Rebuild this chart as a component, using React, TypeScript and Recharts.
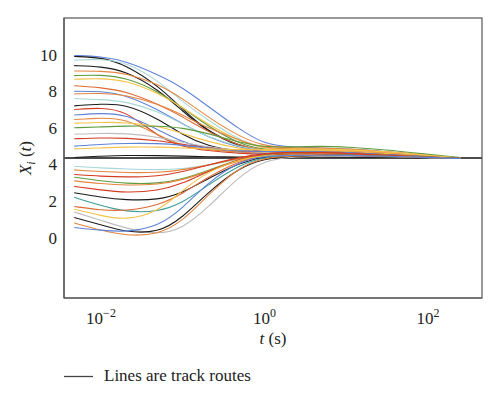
import React from 'react';
import { LineChart, Line, XAxis, YAxis, ReferenceLine } from 'recharts';

const times = [0.0047, 0.01, 0.02, 0.05, 0.1, 0.2, 0.5, 1, 2, 5, 10, 30, 100, 250];
const xTicks = [0.01, 1, 100];
const xTickExponents = ['−2', '0', '2'];
const yTicks = [0, 2, 4, 6, 8, 10];
const settleValue = 4.35;

const u1 = [9.95, 9.9, 9.65, 8.9, 8.2, 7.2, 5.9, 5.1, 4.95, 4.9, 4.85, 4.7, 4.5, 4.35];
const u2 = [9.9, 9.85, 9.45, 8.3, 7.0, 5.8, 5.0, 4.7, 4.65, 4.65, 4.6, 4.55, 4.45, null];
const u3 = [9.7, 9.75, 9.6, 8.6, 7.4, 6.45, 5.3, 4.85, 4.8, 4.8, 4.75, 4.65, 4.45, 4.35];
const u4 = [9.4, 9.35, 9.1, 8.1, 6.9, 5.8, 4.95, 4.65, 4.6, 4.6, 4.55, 4.5, 4.4, 4.33];
const u5 = [9.1, 9.1, 9.0, 8.4, 7.6, 6.6, 5.5, 5.0, 4.9, 4.9, 4.85, 4.7, 4.5, 4.35];
const u6 = [8.85, 8.9, 8.75, 8.0, 7.1, 6.1, 5.1, 4.8, 4.75, 4.75, 4.7, 4.6, 4.45, 4.35];
const u7 = [8.65, 8.7, 8.6, 7.9, 7.1, 6.2, 5.25, 4.85, 4.8, 4.8, 4.75, 4.6, 4.45, null];
const u8 = [8.3, 8.2, 8.0, 7.3, 6.6, 5.8, 5.0, 4.75, 4.7, 4.7, 4.7, 4.6, 4.45, 4.35];
const u9 = [8.0, 8.0, 7.8, 7.0, 6.2, 5.5, 4.9, 4.7, 4.65, 4.65, 4.6, 4.55, 4.42, 4.33];
const u10 = [7.85, 7.9, 7.8, 7.3, 6.7, 6.0, 5.3, 4.9, 4.85, 4.85, 4.8, 4.65, 4.45, 4.35];
const u11 = [7.6, 7.55, 7.45, 6.9, 6.2, 5.5, 4.95, 4.75, 4.7, 4.7, 4.65, 4.55, 4.42, 4.33];
const u12 = [7.2, 7.3, 7.3, 6.5, 5.6, 5.0, 4.7, 4.6, 4.55, 4.55, 4.5, 4.45, 4.38, null];
const u13 = [7.0, 7.1, 6.95, 5.5, 4.95, 4.75, 4.6, 4.55, 4.6, 4.6, 4.55, 4.5, 4.4, 4.33];
const u14 = [6.7, 6.8, 6.75, 5.9, 5.2, 4.85, 4.65, 4.6, 4.6, 4.6, 4.55, 4.5, 4.4, 4.33];
const u15 = [6.45, 6.55, 6.5, 5.6, 5.0, 4.8, 4.65, 4.65, 4.65, 4.65, 4.6, 4.5, 4.4, 4.33];
const u16 = [6.25, 6.3, 6.3, 6.1, 5.7, 5.25, 4.85, 4.75, 4.75, 4.75, 4.7, 4.6, 4.45, 4.35];
const u17 = [6.0, 6.05, 6.1, 6.1, 6.0, 5.7, 5.2, 4.95, 4.95, 5.0, 4.95, 4.8, 4.55, 4.37];
const u18 = [5.65, 5.7, 5.7, 5.5, 5.2, 4.95, 4.75, 4.65, 4.65, 4.65, 4.6, 4.5, 4.4, 4.33];
const u19 = [5.4, 5.45, 5.45, 5.3, 5.1, 4.9, 4.75, 4.7, 4.7, 4.7, 4.65, 4.55, 4.42, 4.33];
const u20 = [5.0, 5.1, 5.15, 5.15, 5.05, 4.9, 4.75, 4.7, 4.7, 4.7, 4.65, 4.55, 4.42, 4.33];
const u21 = [4.85, 4.9, 4.95, 4.95, 4.9, 4.85, 4.8, 4.8, 4.85, 4.85, 4.8, 4.7, 4.5, 4.35];
const u22 = [4.38, 4.45, 4.5, 4.48, 4.45, 4.42, 4.4, 4.4, 4.42, 4.42, 4.4, 4.38, 4.35, null];

const l1 = [3.9, 3.8, 3.75, 3.7, 3.75, 3.95, 4.3, 4.5, 4.55, 4.55, 4.55, 4.5, 4.4, 4.33];
const l2 = [3.7, 3.6, 3.55, 3.55, 3.7, 3.95, 4.35, 4.55, 4.6, 4.6, 4.6, 4.5, 4.4, 4.33];
const l3 = [3.45, 3.35, 3.3, 3.35, 3.6, 3.95, 4.4, 4.6, 4.65, 4.65, 4.6, 4.52, 4.4, 4.33];
const l4 = [3.3, 3.1, 2.95, 2.95, 3.2, 3.65, 4.3, 4.55, 4.6, 4.6, 4.55, 4.5, 4.4, 4.33];
const l5 = [3.1, 2.95, 2.85, 2.9, 3.15, 3.6, 4.25, 4.5, 4.6, 4.6, 4.55, 4.5, 4.4, null];
const l6 = [2.8, 2.6, 2.45, 2.55, 2.95, 3.6, 4.3, 4.6, 4.65, 4.65, 4.6, 4.5, 4.4, 4.33];
const l7 = [2.45, 2.2, 2.05, 2.05, 2.45, 3.2, 4.1, 4.45, 4.55, 4.55, 4.5, 4.45, 4.38, 4.32];
const l8 = [2.2, 1.75, 1.4, 1.4, 1.9, 2.85, 4.0, 4.4, 4.5, 4.5, 4.5, 4.45, 4.38, 4.32];
const l9 = [1.7, 1.5, 1.45, 1.75, 2.4, 3.3, 4.2, 4.5, 4.55, 4.55, 4.5, 4.45, 4.38, null];
const l10 = [1.55, 1.2, 0.95, 1.4, 2.6, 3.6, 4.3, 4.5, 4.5, 4.5, 4.5, 4.45, 4.38, 4.32];
const l11 = [1.4, 0.95, 0.5, 0.15, 0.5, 1.6, 3.4, 4.2, 4.4, 4.45, 4.45, 4.42, 4.36, 4.32];
const l12 = [1.1, 0.7, 0.3, 0.25, 1.1, 2.45, 3.85, 4.3, 4.45, 4.5, 4.5, 4.45, 4.38, 4.32];
const l13 = [0.8, 0.4, 0.1, 0.15, 0.9, 2.3, 3.9, 4.35, 4.45, 4.5, 4.5, 4.45, 4.38, 4.32];
const l14 = [0.55, 0.4, 0.3, 0.6, 1.6, 3.0, 4.2, 4.45, 4.5, 4.5, 4.5, 4.45, 4.38, 4.32];

const BLUE = '#5f83d6';
const BLACK = '#1b1b1b';
const LTEAL = '#a8d8d6';
const ORANGE = '#e5853f';
const GREEN = '#5f9b3f';
const YELLOW = '#f4c34a';
const ORED = '#dd6a35';
const RED = '#d23c22';
const GRAY = '#bdbdbd';
const TEAL = '#3b9b98';

const routes: (number | null)[][] = [
  u1, u2, u3, u4, u5, u6, u7, u8, u9, u10, u11, u12, u13, u14, u15, u16, u17, u18, u19, u20, u21, u22,
  l1, l2, l3, l4, l5, l6, l7, l8, l9, l10, l11, l12, l13, l14,
];
const routeColors = [
  BLUE, BLACK, LTEAL, BLACK, ORANGE, GREEN, YELLOW, ORED, BLUE, ORANGE, LTEAL, BLACK, RED, BLUE, ORANGE,
  YELLOW, GREEN, GRAY, RED, BLUE, YELLOW, BLACK,
  LTEAL, ORANGE, RED, GREEN, ORANGE, RED, BLACK, TEAL, ORED, YELLOW, GRAY, BLACK, ORANGE, BLUE,
];

const data = times.map((t, i) => {
  const row: Record<string, number | null> = { t };
  routes.forEach((r, k) => {
    row['r' + k] = r[i];
  });
  return row;
});

const FONT = '"Liberation Serif", "Times New Roman", serif';
const X_DOMAIN: [number, number] = [0.003526, 457.8];
const Y_DOMAIN: [number, number] = [-3.3, 12];

const XTick = (props: any) => {
  const { x, y, payload } = props;
  const i = xTicks.indexOf(payload.value);
  const exp = i >= 0 ? xTickExponents[i] : '';
  return (
    <text x={x} y={y + 24} textAnchor="middle" style={{ fontFamily: FONT }} fontSize={17} fill="#222">
      <tspan>10</tspan>
      <tspan dy={-7} fontSize={12}>{exp}</tspan>
    </text>
  );
};

const YTick = (props: any) => {
  const { x, y, payload } = props;
  return (
    <text x={x} y={y + 6} textAnchor="end" style={{ fontFamily: FONT }} fontSize={17} fill="#222">
      {payload.value}
    </text>
  );
};

export default function App() {
  return (
    <div style={{ position: 'absolute', left: 0, top: 0, width: 500, height: 399, background: '#fff' }}>
      <LineChart
        width={500}
        height={399}
        data={data}
        margin={{ top: 18, right: 18, bottom: 71, left: 0 }}
      >
        <XAxis
          dataKey="t"
          type="number"
          scale="log"
          domain={X_DOMAIN}
          allowDataOverflow
          ticks={xTicks}
          tick={<XTick />}
          tickLine={false}
          tickSize={0}
          height={30}
          axisLine={{ stroke: '#555', strokeWidth: 1.2 }}
        />
        <YAxis
          type="number"
          domain={Y_DOMAIN}
          allowDataOverflow
          ticks={yTicks}
          tickLine={false}
          tickSize={0}
          tickMargin={7}
          width={64}
          axisLine={{ stroke: '#555', strokeWidth: 1.2 }}
          tick={<YTick />}
        />
        <ReferenceLine y={settleValue} stroke="#111" strokeWidth={1.3} />
        {routes.map((_, k) => (
          <Line
            key={k}
            dataKey={'r' + k}
            type="basis"
            stroke={routeColors[k]}
            strokeWidth={1.1}
            dot={false}
            activeDot={false}
            isAnimationActive={false}
            connectNulls={false}
          />
        ))}
      </LineChart>
      <svg
        width={500}
        height={399}
        style={{ position: 'absolute', left: 0, top: 0, pointerEvents: 'none' }}
      >
        <rect x={64} y={18} width={418} height={280} fill="none" stroke="#555" strokeWidth={1.2} />
        <text
          transform="translate(31,158) rotate(-90)"
          textAnchor="middle"
          style={{ fontFamily: FONT }}
          fontSize={17}
          fill="#222"
        >
          <tspan fontStyle="italic">X</tspan>
          <tspan fontStyle="italic" fontSize={12} dy={4}>i</tspan>
          <tspan dy={-4}> (</tspan>
          <tspan fontStyle="italic">t</tspan>
          <tspan>)</tspan>
        </text>
        <text x={273} y={344} textAnchor="middle" style={{ fontFamily: FONT }} fontSize={17} fill="#222">
          <tspan fontStyle="italic">t</tspan>
          <tspan> (s)</tspan>
        </text>
        <line x1={64} y1={376.5} x2={93} y2={376.5} stroke="#444" strokeWidth={1.3} />
        <text x={104} y={381} style={{ fontFamily: FONT }} fontSize={17} fill="#222">
          Lines are track routes
        </text>
      </svg>
    </div>
  );
}
